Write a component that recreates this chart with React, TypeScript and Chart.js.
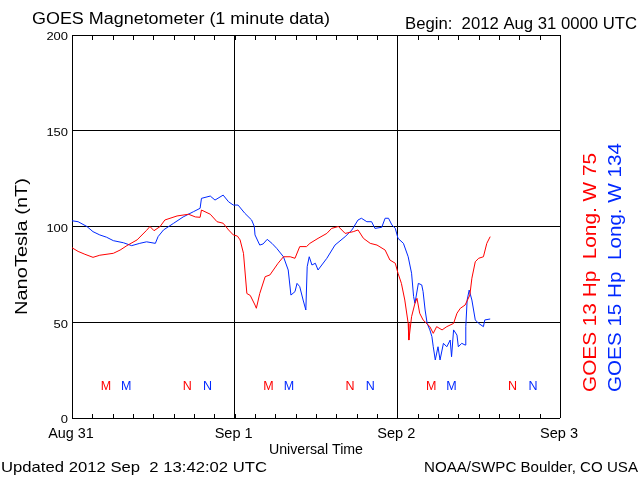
import { useEffect, useRef } from "react";
import { Chart, registerables } from "chart.js";

Chart.register(...registerables);

// Hours since 2012 Aug 31 00:00 UTC
const redHours = [0, 0.9, 1.9, 3.1, 4.1, 6.1, 7.1, 8.1, 9.6, 11.0, 11.5, 12.1, 13.0, 13.7, 15.5, 17.2, 18.2, 18.9, 19.1, 20.4, 21.4, 22.3, 23.1, 23.8, 24.4, 24.8, 25.3, 25.8, 26.3, 27.0, 27.2, 27.7, 28.5, 29.2, 30.4, 31.2, 32.2, 32.9, 33.6, 34.6, 35.1, 36.3, 37.6, 38.3, 39.3, 40.3, 41.5, 42.2, 43.0, 44.0, 45.0, 46.2, 46.9, 47.7, 48.1, 48.6, 49.1, 49.6, 49.7, 50.1, 50.6, 50.9, 51.3, 51.8, 52.8, 53.3, 53.8, 54.6, 55.3, 56.3, 56.8, 57.3, 58.0, 58.7, 59.0, 59.5, 60.0, 60.7, 61.2, 61.7];
const redValues = [88.9, 87, 85.5, 83.9, 85, 86, 87.7, 90, 93, 98, 100, 97.8, 100, 103.4, 105.5, 106.4, 105, 104.8, 108.6, 106.4, 102.5, 101.7, 98.2, 95.6, 95, 93, 86, 65, 64, 59, 57.3, 65, 73.8, 74.7, 80.8, 84.2, 84.2, 83.4, 89.5, 89.5, 91.2, 93.8, 96.4, 99, 100, 96.4, 97.3, 98.2, 93.8, 91.2, 90.3, 87.7, 82.5, 80.8, 75.6, 70.3, 61.6, 49.4, 40.7, 52.9, 59.9, 62.5, 54.7, 51.2, 47.7, 44.2, 47.7, 46, 47.7, 49.4, 54.7, 57.3, 59, 64.2, 73, 81.6, 83.4, 84.2, 91.2, 94.7];

const blueHours = [0, 0.9, 2.2, 3.1, 4.1, 5.1, 6.1, 7.6, 8.8, 10.0, 11.0, 12.3, 12.7, 13.5, 15.0, 16.4, 17.9, 18.9, 19.1, 20.4, 21.1, 22.3, 23.1, 23.8, 24.5, 25.5, 26.5, 26.9, 27.0, 27.7, 28.2, 28.8, 29.5, 30.2, 31.2, 31.9, 32.3, 32.9, 33.2, 33.6, 34.1, 34.5, 34.7, 35.0, 35.4, 35.9, 36.3, 37.6, 38.8, 40.3, 41.3, 42.2, 42.7, 43.5, 44.2, 44.7, 45.7, 46.2, 46.7, 47.2, 47.7, 48.1, 48.9, 49.6, 50.1, 50.4, 50.6, 51.1, 51.6, 51.8, 52.1, 52.4, 52.8, 53.1, 53.3, 53.6, 54.0, 54.3, 54.8, 55.3, 55.8, 56.0, 56.3, 56.8, 57.0, 57.5, 58.0, 58.1, 58.3, 58.6, 59.0, 59.5, 60.0, 60.7, 60.9, 61.7];
const blueValues = [103, 102.5, 100, 97.3, 95.6, 94.4, 92.6, 91.5, 90, 91.2, 92, 91.2, 94.7, 98.2, 101.7, 105, 107.7, 109.5, 114.7, 115.9, 113.8, 116.4, 112.9, 111.2, 111.2, 106.9, 103.4, 100, 95.6, 90.3, 90.9, 93.3, 91.2, 88.6, 84.2, 77.3, 64.2, 66, 70.3, 68.6, 61.6, 56.4, 79, 84.2, 79.9, 80.8, 77.3, 83.4, 90.3, 94.7, 98.2, 103.4, 104.3, 102.5, 102.5, 99, 99.6, 104.3, 104.3, 100.8, 99, 93.8, 91.2, 84.2, 75.6, 63.4, 59.9, 70.3, 69.5, 66, 56.4, 49.4, 46, 42.5, 37.2, 30.3, 37.2, 30.3, 39, 37.2, 40.7, 32, 46, 43.3, 37.2, 39, 38.1, 47.7, 61.6, 66.8, 61.6, 51.2, 49.4, 47.7, 51.2, 51.7];

const dayHours = [0, 24, 48, 72];
const dayLabels = ["Aug 31", "Sep 1", "Sep 2", "Sep 3"];
const yTickValues = [0, 50, 100, 150, 200];
const minorTickStep = 3;

const redMHours = [5, 29, 53];
const blueMHours = [8, 32, 56];
const redNHours = [17, 41, 65];
const blueNHours = [20, 44, 68];
const markerLevel = 17;

const RED = "#ff0000";
const BLUE = "#0028ff";
const FONT = '"Liberation Sans", Arial, sans-serif';

function drawText(
  ctx: CanvasRenderingContext2D,
  s: string,
  x: number,
  cy: number,
  width: number,
  size: number,
  align: CanvasTextAlign,
  color: string,
  rot = 0
) {
  ctx.save();
  ctx.font = `${size}px ${FONT}`;
  const m = ctx.measureText(s).width;
  const sx = width > 0 ? width / m : 1;
  ctx.translate(x, cy);
  if (rot) ctx.rotate(rot);
  ctx.scale(sx, 1);
  ctx.fillStyle = color;
  ctx.textAlign = align;
  ctx.textBaseline = "alphabetic";
  ctx.fillText(s, 0, size * 0.716 / 2);
  ctx.restore();
}

const decorPlugin = {
  id: "decor",
  beforeDraw(chart: any) {
    const ctx = chart.ctx;
    ctx.save();
    ctx.fillStyle = "#ffffff";
    ctx.fillRect(0, 0, chart.width, chart.height);
    ctx.restore();
  },
  afterDraw(chart: any) {
    const ctx: CanvasRenderingContext2D = chart.ctx;
    const xs = chart.scales.x;
    const ys = chart.scales.y;
    const area = chart.chartArea;

    // minor ticks (every 3 hours), inside top and bottom
    ctx.save();
    ctx.strokeStyle = "#000";
    ctx.lineWidth = 1;
    ctx.beginPath();
    for (let h = minorTickStep; h < 72; h += minorTickStep) {
      const px = Math.round(xs.getPixelForValue(h)) + 0.5;
      ctx.moveTo(px, Math.round(area.top));
      ctx.lineTo(px, Math.round(area.top) + 5);
      ctx.moveTo(px, Math.round(area.bottom) + 1);
      ctx.lineTo(px, Math.round(area.bottom) - 4);
    }
    ctx.stroke();
    ctx.restore();

    // y tick labels
    yTickValues.forEach((v) => {
      const s = String(v);
      drawText(ctx, s, 68, ys.getPixelForValue(v) + 1.5, 7.2 * s.length, 11, "right", "#000");
    });

    // x tick labels
    dayHours.forEach((h, i) => {
      const s = dayLabels[i];
      drawText(ctx, s, xs.getPixelForValue(h) - 1, 433, 7.6 * s.length, 14, "center", "#000");
    });

    drawText(ctx, "Universal Time", 316, 449, 94, 14, "center", "#000");
    drawText(ctx, "NanoTesla (nT)", 21, 246.5, 137, 16, "center", "#000", -Math.PI / 2);

    drawText(ctx, "GOES Magnetometer (1 minute data)", 32, 18, 298, 16, "left", "#000");
    drawText(ctx, "Begin:  2012 Aug 31 0000 UTC", 405, 23, 232, 16, "left", "#000");
    drawText(ctx, "Updated 2012 Sep  2 13:42:02 UTC", 1, 467, 266, 15, "left", "#000");
    drawText(ctx, "NOAA/SWPC Boulder, CO USA", 638, 467, 214, 15, "right", "#000");

    drawText(ctx, "GOES 13 Hp  Long. W 75", 590, 272.5, 239, 18, "center", RED, -Math.PI / 2);
    drawText(ctx, "GOES 15 Hp  Long. W 134", 615, 267.5, 249, 18, "center", BLUE, -Math.PI / 2);

    const my = ys.getPixelForValue(markerLevel);
    const mark = (hours: number[], s: string, color: string) => {
      hours.forEach((h) => {
        drawText(ctx, s, xs.getPixelForValue(h), my, 0, 12.5, "center", color);
      });
    };
    mark(redMHours, "M", RED);
    mark(blueMHours, "M", BLUE);
    mark(redNHours, "N", RED);
    mark(blueNHours, "N", BLUE);
  },
};

export default function App() {
  const ref = useRef<HTMLCanvasElement | null>(null);

  useEffect(() => {
    if (!ref.current) return;
    const chart = new Chart(ref.current, {
      type: "line",
      data: {
        datasets: [
          {
            label: "GOES 13 Hp",
            data: redHours.map((h, i) => ({ x: h, y: redValues[i] })),
            borderColor: RED,
            borderWidth: 1,
            pointRadius: 0,
            tension: 0,
            fill: false,
          },
          {
            label: "GOES 15 Hp",
            data: blueHours.map((h, i) => ({ x: h, y: blueValues[i] })),
            borderColor: BLUE,
            borderWidth: 1,
            pointRadius: 0,
            tension: 0,
            fill: false,
          },
        ],
      },
      options: {
        responsive: false,
        animation: false,
        devicePixelRatio: 1,
        layout: { padding: { left: 72, right: 80, top: 35, bottom: 62 } },
        plugins: {
          legend: { display: false },
          tooltip: { enabled: false },
          title: { display: false },
        },
        scales: {
          x: {
            type: "linear",
            min: 0,
            max: 72,
            ticks: { stepSize: 24, display: false },
            grid: { color: "#000", lineWidth: 1, drawTicks: false },
            border: { display: false },
            afterFit: (s: any) => {
              s.height = 0;
            },
          },
          y: {
            type: "linear",
            min: 0,
            max: 200,
            ticks: { stepSize: 50, display: false },
            grid: { color: "#000", lineWidth: 1, drawTicks: false },
            border: { display: false },
            afterFit: (s: any) => {
              s.width = 0;
            },
          },
        },
      },
      plugins: [decorPlugin],
    });
    return () => chart.destroy();
  }, []);

  return (
    <div style={{ position: "absolute", left: 0, top: 0, width: 640, height: 480, background: "#fff" }}>
      <canvas ref={ref} width={640} height={480} style={{ display: "block" }} />
    </div>
  );
}
